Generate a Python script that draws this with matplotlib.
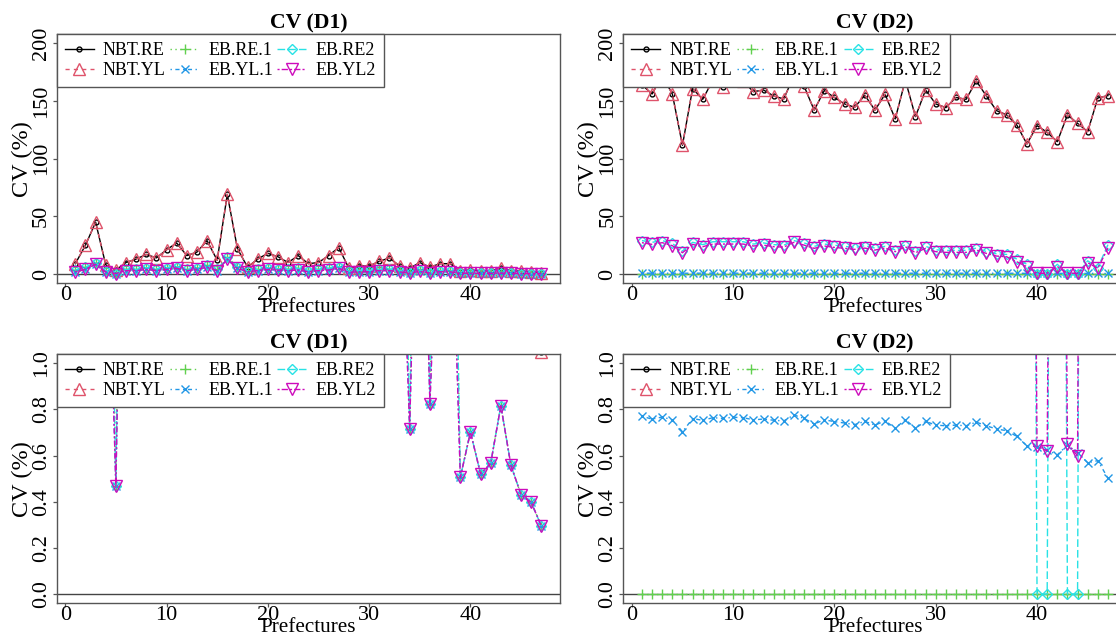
import matplotlib
matplotlib.use("Agg")
import matplotlib.pyplot as plt

plt.rcParams['font.family'] = ['Liberation Serif', 'DejaVu Serif']

# ---------------- data ----------------
prefectures = list(range(1, 48))
series_names = ["NBT.RE", "NBT.YL", "EB.RE.1", "EB.YL.1", "EB.RE2", "EB.YL2"]

nbt_re_d1 = [9, 25, 45, 8, 3.5, 10, 13, 17, 14, 21, 27, 16, 19, 29, 12, 69, 22, 6, 13, 18,
             15, 10, 16, 9, 10, 16, 23, 5, 7, 7, 11, 14, 7, 5, 10, 6, 9, 9, 3, 3.5,
             2.5, 3, 5, 3, 2.5, 2, 1.05]
nbt_yl_d1 = [9, 25, 45, 8, 3.5, 10, 13, 17, 14, 21, 27, 16, 19, 29, 12, 69, 22, 6, 13, 18,
             15, 10, 16, 9, 10, 16, 23, 5, 7, 7, 11, 14, 7, 5, 10, 6, 9, 9, 3, 3.5,
             2.5, 3, 5, 3, 2.5, 2, 1.05]
eb_re1_d1 = [3.5, 6, 9.5, 3, 0.466, 4, 4, 5.5, 4.5, 5.5, 6.5, 4, 5, 7.5, 4, 14.5, 6.5, 3, 4, 5.5,
             4.5, 4, 5, 3, 4, 5, 6.5, 2.5, 3, 3, 4, 4.5, 3, 0.716, 3.5, 0.823, 3, 3, 0.505, 0.702,
             0.521, 0.566, 0.816, 0.557, 0.430, 0.397, 0.295]
eb_yl1_d1 = [2, 4, 8.5, 2, 0.466, 3, 3, 4, 3, 4, 5, 3, 4, 6, 3, 13, 5, 2, 3, 4,
             3.5, 3, 3.5, 2, 3, 3.5, 5, 1.5, 2, 2, 3, 3, 2, 0.716, 2.5, 0.823, 2, 2, 0.505, 0.702,
             0.521, 0.566, 0.816, 0.557, 0.430, 0.397, 0.295]
eb_re2_d1 = [3.5, 6, 9.5, 3, 0.466, 4, 4, 5.5, 4.5, 5.5, 6.5, 4, 5, 7.5, 4, 14.5, 6.5, 3, 4, 5.5,
             4.5, 4, 5, 3, 4, 5, 6.5, 2.5, 3, 3, 4, 4.5, 3, 0.716, 3.5, 0.823, 3, 3, 0.505, 0.702,
             0.521, 0.566, 0.816, 0.557, 0.430, 0.397, 0.295]
eb_yl2_d1 = [2, 4, 8.5, 2, 0.466, 3, 3, 4, 3, 4, 5, 3, 4, 6, 3, 13, 5, 2, 3, 4,
             3.5, 3, 3.5, 2, 3, 3.5, 5, 1.5, 2, 2, 3, 3, 2, 0.716, 2.5, 0.823, 2, 2, 0.505, 0.702,
             0.521, 0.566, 0.816, 0.557, 0.430, 0.397, 0.295]

nbt_re_d2 = [164, 156, 172, 156, 111.6, 160.7, 151.4, 168, 162, 170, 167, 158, 159.5, 154.3, 151.7,
             172, 163, 142, 159, 153, 147.4, 144.5, 155, 142, 155.8, 134.4, 168, 136.4, 159.5, 147.4,
             144.2, 153, 151.4, 167.3, 154.3, 141.6, 137.9, 129.2, 112.7, 128.6, 122.8, 114.7, 137.9,
             130.6, 123.4, 152.6, 154.6]
nbt_yl_d2 = [164, 156, 172, 156, 111.6, 160.7, 151.4, 168, 162, 170, 167, 158, 159.5, 154.3, 151.7,
             172, 163, 142, 159, 153, 147.4, 144.5, 155, 142, 155.8, 134.4, 168, 136.4, 159.5, 147.4,
             144.2, 153, 151.4, 167.3, 154.3, 141.6, 137.9, 129.2, 112.7, 128.6, 122.8, 114.7, 137.9,
             130.6, 123.4, 152.6, 154.6]
eb_re1_d2 = [0.0] * 47
eb_yl1_d2 = [0.770, 0.758, 0.767, 0.755, 0.703, 0.760, 0.753, 0.764, 0.761, 0.766, 0.764, 0.755,
             0.758, 0.753, 0.750, 0.776, 0.761, 0.737, 0.755, 0.747, 0.741, 0.734, 0.748, 0.732,
             0.750, 0.719, 0.755, 0.719, 0.748, 0.732, 0.729, 0.732, 0.729, 0.745, 0.729, 0.715,
             0.708, 0.683, 0.642, 0.639, 0.624, 0.603, 0.646, 0.612, 0.569, 0.578, 0.502]
eb_re2_d2 = [29, 27.5, 29, 26.5, 20, 27.5, 25.5, 28, 28, 28, 28, 26, 27, 25.5, 25, 29, 27, 24, 26, 25,
             24, 23, 24.5, 22.5, 24, 21, 25.5, 20, 24, 21, 20.5, 20.5, 20.5, 22.5, 19.5, 17.5, 17,
             13, 8.5, 0.0, 0.0, 8.5, 0.0, 0.0, 11.5, 5.5, 25.5]
eb_yl2_d2 = [27.2, 25.7, 27.2, 24.6, 18.5, 25.7, 23.7, 26, 26, 26, 26, 24.3, 25.1, 23.7, 23.4, 27.5,
             25.1, 22.3, 24.3, 23.1, 22.3, 21.4, 22.5, 20.8, 22.5, 19.4, 23.7, 18.5, 22.3, 19.4, 18.8,
             18.8, 18.8, 20.8, 17.9, 15.6, 15.0, 10.7, 6.4, 0.64, 0.62, 6.5, 0.65, 0.60, 9.8, 5.0, 22.6]

d1_series = [nbt_re_d1, nbt_yl_d1, eb_re1_d1, eb_yl1_d1, eb_re2_d1, eb_yl2_d1]
d2_series = [nbt_re_d2, nbt_yl_d2, eb_re1_d2, eb_yl1_d2, eb_re2_d2, eb_yl2_d2]

x_ticks = [0, 10, 20, 30, 40]
y_ticks_full = [0, 50, 100, 150, 200]
y_ticks_zoom = [0.0, 0.2, 0.4, 0.6, 0.8, 1.0]
y_ticklabels_zoom = ["0.0", "0.2", "0.4", "0.6", "0.8", "1.0"]

# ---------------- styling ----------------
colors = ['#000000', '#DF536B', '#61D04F', '#2297E6', '#28E2E5', '#CD0BBC']
linestyles = ['-', (0, (3, 3)), (0, (1, 2.5)), (0, (1, 2.5, 3, 2.5)), (0, (5.5, 2.2)),
              (0, (1.5, 1.5, 4.5, 1.5))]
markers = ['o', '^', '+', 'x', 'D', 'v']
msizes = [3.5, 8.5, 7.5, 6, 5.5, 8.5]

W, H = 1116, 638
fig = plt.figure(figsize=(W / 100, H / 100), dpi=100)


def px_rect(left, top, right, bottom):
    return [left / W, 1 - bottom / H, (right - left) / W, (bottom - top) / H]


panels = [
    (px_rect(56.7, 34, 560, 283.3), d1_series, "CV (D1)", (0, 200), y_ticks_full, None),
    (px_rect(623.3, 34, 1126.6, 283.3), d2_series, "CV (D2)", (0, 200), y_ticks_full, None),
    (px_rect(56.7, 354, 560, 603.3), d1_series, "CV (D1)", (0, 1), y_ticks_zoom, y_ticklabels_zoom),
    (px_rect(623.3, 354, 1126.6, 603.3), d2_series, "CV (D2)", (0, 1), y_ticks_zoom, y_ticklabels_zoom),
]

xmin, xmax = min(prefectures), max(prefectures)
xpad = 0.04 * (xmax - xmin)
frame_col = '#555555'

for rect, series, title, (y0, y1), yt, ytl in panels:
    ax = fig.add_axes(rect)
    ypad = 0.04 * (y1 - y0)
    ax.axhline(0, color='#444444', lw=1.0, zorder=1)
    handles = []
    for vals, name, c, ls, mk, ms in zip(series, series_names, colors, linestyles, markers, msizes):
        ln, = ax.plot(prefectures, vals, color=c, ls=ls, lw=1.0, marker=mk, ms=ms,
                      mfc='none', mec=c, mew=1.0, label=name, zorder=2)
        handles.append(ln)
    ax.set_xlim(xmin - xpad, xmax + xpad)
    ax.set_ylim(y0 - ypad, y1 + ypad)
    ax.set_xticks(x_ticks)
    ax.set_yticks(yt)
    if ytl is not None:
        ax.set_yticklabels(ytl)
    for s in ax.spines.values():
        s.set_color(frame_col)
        s.set_linewidth(1.0)
    ax.tick_params(direction='out', length=3.2, width=0.9, color=frame_col, labelsize=16)
    ax.tick_params(axis='x', pad=-1.0)
    ax.tick_params(axis='y', pad=1.0, labelrotation=90)
    for lab in ax.get_yticklabels():
        lab.set_va('center')
    ax.set_title(title, fontsize=15.7, fontweight='bold', pad=4)
    ax.set_xlabel("Prefectures", fontsize=15.2, va='center')
    ax.xaxis.set_label_coords(0.5, -(307.8 - 283.3) / 249.3)
    ax.set_ylabel("CV (%)", fontsize=17.5, va='center', ha='center')
    ax.yaxis.set_label_coords(-(56.7 - 22) / 503.3, 0.5)
    leg = ax.legend(handles=handles, loc='upper left', bbox_to_anchor=(0, 1), borderaxespad=0,
                    ncol=3, fontsize=13.0, fancybox=False, edgecolor=frame_col, framealpha=1,
                    handlelength=1.6, handletextpad=0.5, columnspacing=0.25, labelspacing=0.15,
                    borderpad=0.45, numpoints=1)
    leg.get_frame().set_linewidth(1.0)

fig.savefig("out.png", dpi=100)
